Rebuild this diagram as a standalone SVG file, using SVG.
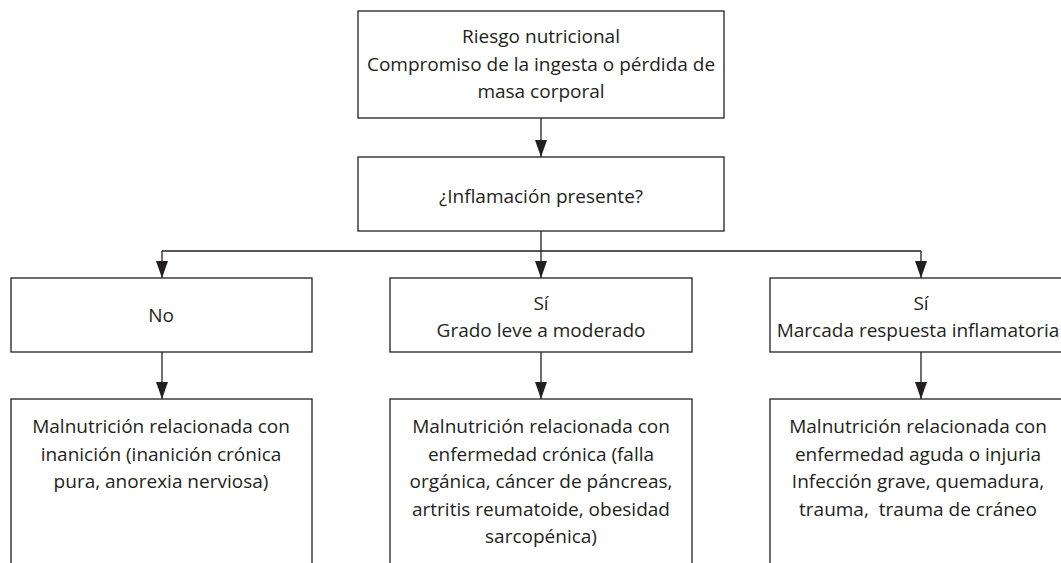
<svg xmlns="http://www.w3.org/2000/svg" width="1061" height="563" viewBox="0 0 1061 563">
<style>
.box{fill:#fff;stroke:#231f20;stroke-width:1.3}
.t{font-family:"Open Sans","Noto Sans",sans-serif;font-size:19px;fill:#231f20;text-anchor:middle}
.c{fill:none;stroke:#231f20;stroke-width:1.3}
</style>
<defs>
<marker id="a" markerWidth="17" markerHeight="12" refX="17" refY="6" orient="auto" markerUnits="userSpaceOnUse" viewBox="0 0 17 12">
<path d="M0,0 L17,6 L0,12 Z" fill="#231f20"/>
</marker>
</defs>
<rect width="1061" height="563" fill="#fff"/>
<g id="connectors">
<path class="c" d="M541,118 V157" marker-end="url(#a)"/>
<path class="c" d="M541,231 V251"/>
<path class="c" d="M162,251 H921"/>
<path class="c" d="M162,251 V278" marker-end="url(#a)"/>
<path class="c" d="M541,251 V278" marker-end="url(#a)"/>
<path class="c" d="M921,251 V278" marker-end="url(#a)"/>
<path class="c" d="M162,352 V399" marker-end="url(#a)"/>
<path class="c" d="M541,352 V399" marker-end="url(#a)"/>
<path class="c" d="M921,352 V399" marker-end="url(#a)"/>
</g>
<g id="riesgo">
<rect class="box" x="358" y="11" width="366" height="107"/>
<text class="t" x="541" y="43">Riesgo nutricional</text>
<text class="t" x="541" y="70.5">Compromiso de la ingesta o pérdida de</text>
<text class="t" x="541" y="98">masa corporal</text>
</g>
<g id="inflamacion">
<rect class="box" x="358" y="157" width="366" height="74"/>
<text class="t" x="541" y="203">¿Inflamación presente?</text>
</g>
<g id="no">
<rect class="box" x="11" y="278" width="301" height="74"/>
<text class="t" x="161" y="322">No</text>
</g>
<g id="si-leve">
<rect class="box" x="390" y="278" width="302" height="74"/>
<text class="t" x="541" y="310">Sí</text>
<text class="t" x="541" y="337">Grado leve a moderado</text>
</g>
<g id="si-marcada">
<rect class="box" x="770" y="278" width="302" height="74"/>
<text class="t" x="921" y="310">Sí</text>
<text class="t" x="918" y="337">Marcada respuesta inflamatoria</text>
</g>
<g id="inanicion">
<rect class="box" x="11" y="399" width="301" height="190"/>
<text class="t" x="161" y="433">Malnutrición relacionada con</text>
<text class="t" x="161" y="460.5">inanición (inanición crónica</text>
<text class="t" x="161" y="488">pura, anorexia nerviosa)</text>
</g>
<g id="cronica">
<rect class="box" x="390" y="399" width="302" height="190"/>
<text class="t" x="541" y="433">Malnutrición relacionada con</text>
<text class="t" x="541" y="460.5">enfermedad crónica (falla</text>
<text class="t" x="541" y="488">orgánica, cáncer de páncreas,</text>
<text class="t" x="541" y="515.5">artritis reumatoide, obesidad</text>
<text class="t" x="541" y="543">sarcopénica)</text>
</g>
<g id="aguda">
<rect class="box" x="770" y="399" width="302" height="190"/>
<text class="t" x="918" y="433">Malnutrición relacionada con</text>
<text class="t" x="918" y="460.5">enfermedad aguda o injuria</text>
<text class="t" x="918" y="488">Infección grave, quemadura,</text>
<text class="t" x="918" y="515.5" xml:space="preserve">trauma,  trauma de cráneo</text>
</g>
</svg>
